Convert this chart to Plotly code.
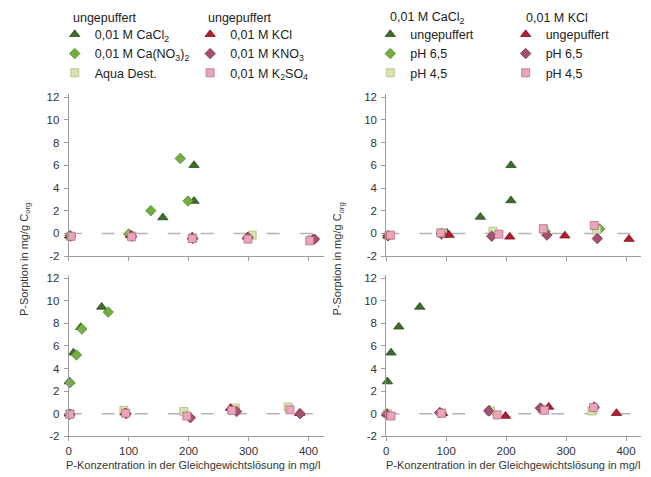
import plotly.graph_objects as go

# ---------------- data ----------------
# top-left panel: ungepuffert solutions
tl_cacl2_x = [2, 103, 157, 209, 209]
tl_cacl2_y = [-0.2, -0.15, 1.4, 2.85, 6.0]
tl_cano3_x = [2, 100, 137, 199, 186]
tl_cano3_y = [-0.2, -0.05, 2.0, 2.85, 6.6]
tl_aqua_x = [3, 104, 207, 306, 405]
tl_aqua_y = [-0.25, -0.2, -0.4, -0.15, -0.55]
tl_kcl_x = [2, 104, 206, 298, 407]
tl_kcl_y = [-0.2, -0.15, -0.3, -0.3, -0.5]
tl_kno3_x = [3, 105, 207, 299, 410]
tl_kno3_y = [-0.25, -0.25, -0.45, -0.35, -0.5]
tl_k2so4_x = [4, 105, 206, 299, 402]
tl_k2so4_y = [-0.25, -0.3, -0.45, -0.5, -0.65]

# bottom-left panel
bl_cacl2_x = [1, 8, 20, 55]
bl_cacl2_y = [2.85, 5.4, 7.65, 9.45]
bl_cano3_x = [2, 13, 22, 66]
bl_cano3_y = [2.75, 5.2, 7.5, 9.0]
bl_aqua_x = [2, 92, 192, 278, 366]
bl_aqua_y = [0.0, 0.3, 0.2, 0.5, 0.6]
bl_kcl_x = [1, 94, 200, 270, 385]
bl_kcl_y = [0.0, 0.1, -0.25, 0.5, 0.05]
bl_kno3_x = [2, 96, 203, 280, 386]
bl_kno3_y = [-0.05, 0.0, -0.35, 0.2, 0.0]
bl_k2so4_x = [2, 95, 197, 272, 369]
bl_k2so4_y = [-0.05, 0.05, -0.2, 0.3, 0.35]

# top-right panel: buffered vs unbuffered
tr_cacl2_x = [3, 101, 157, 208, 208]
tr_cacl2_y = [-0.2, 0.05, 1.45, 2.9, 6.0]
tr_ca65_x = [3, 92, 180, 265, 356]
tr_ca65_y = [-0.2, 0.0, 0.05, 0.2, 0.4]
tr_ca45_x = [4, 94, 178, 263, 351]
tr_ca45_y = [-0.2, 0.0, 0.2, 0.3, 0.3]
tr_kcl_x = [3, 105, 206, 298, 405]
tr_kcl_y = [-0.2, -0.15, -0.3, -0.2, -0.5]
tr_k65_x = [3, 92, 176, 268, 352]
tr_k65_y = [-0.2, -0.05, -0.25, -0.15, -0.45]
tr_k45_x = [7, 91, 188, 262, 347]
tr_k45_y = [-0.15, 0.05, -0.07, 0.42, 0.7]

# bottom-right panel
br_cacl2_x = [2, 8, 21, 56]
br_cacl2_y = [2.85, 5.4, 7.7, 9.45]
br_ca65_x = [1, 90, 172, 258, 346]
br_ca65_y = [0.0, 0.1, 0.3, 0.5, 0.5]
br_ca45_x = [2, 93, 174, 260, 343]
br_ca45_y = [0.0, 0.05, 0.25, 0.4, 0.25]
br_kcl_x = [1, 94, 199, 271, 384]
br_kcl_y = [0.0, 0.05, -0.2, 0.6, 0.05]
br_k65_x = [1, 89, 171, 257, 347]
br_k65_y = [-0.05, 0.1, 0.25, 0.5, 0.6]
br_k45_x = [8, 92, 185, 264, 346]
br_k45_y = [-0.2, 0.05, -0.1, 0.3, 0.55]

left_names = ["0,01 M CaCl<sub>2</sub>", "0,01 M Ca(NO<sub>3</sub>)<sub>2</sub>", "Aqua Dest.",
              "0,01 M KCl", "0,01 M KNO<sub>3</sub>", "0,01 M K<sub>2</sub>SO<sub>4</sub>"]
right_names = ["ungepuffert", "pH 6,5", "pH 4,5", "ungepuffert", "pH 6,5", "pH 4,5"]

x_ticks = [0, 100, 200, 300, 400]
x_ticktext = ["0", "100", "200", "300", "400"]
y_ticks = [-2, 0, 2, 4, 6, 8, 10, 12]
y_ticktext = ["-2", "0", "2", "4", "6", "8", "10", "12"]
x_title = "P-Konzentration in der Gleichgewichtslösung in mg/l"
y_title = "P-Sorption in mg/g C<sub>org</sub>"

# ---------------- styles ----------------
STYLES = [
    dict(symbol="triangle-up", size=9, color="#3e6a2c", line="#2b4c1e"),
    dict(symbol="diamond", size=8, color="#74ae3e", line="#4f8a2a"),
    dict(symbol="square", size=8, color="#d6e5b0", line="#a9bb86"),
    dict(symbol="triangle-up", size=9, color="#b21c30", line="#82101f"),
    dict(symbol="diamond", size=8, color="#a4506f", line="#7a3151"),
    dict(symbol="square", size=8, color="#eaa6b9", line="#b56f88"),
]
FONT = "Liberation Sans, Arial, sans-serif"
W, H = 651, 477

fig = go.Figure()

panels = [
    ("x", "y", [(tl_cacl2_x, tl_cacl2_y), (tl_cano3_x, tl_cano3_y), (tl_aqua_x, tl_aqua_y),
                (tl_kcl_x, tl_kcl_y), (tl_kno3_x, tl_kno3_y), (tl_k2so4_x, tl_k2so4_y)], left_names, True),
    ("x3", "y3", [(bl_cacl2_x, bl_cacl2_y), (bl_cano3_x, bl_cano3_y), (bl_aqua_x, bl_aqua_y),
                  (bl_kcl_x, bl_kcl_y), (bl_kno3_x, bl_kno3_y), (bl_k2so4_x, bl_k2so4_y)], left_names, False),
    ("x2", "y2", [(tr_cacl2_x, tr_cacl2_y), (tr_ca65_x, tr_ca65_y), (tr_ca45_x, tr_ca45_y),
                  (tr_kcl_x, tr_kcl_y), (tr_k65_x, tr_k65_y), (tr_k45_x, tr_k45_y)], right_names, True),
    ("x4", "y4", [(br_cacl2_x, br_cacl2_y), (br_ca65_x, br_ca65_y), (br_ca45_x, br_ca45_y),
                  (br_kcl_x, br_kcl_y), (br_k65_x, br_k65_y), (br_k45_x, br_k45_y)], right_names, False),
]

for xa, ya, series, names, show in panels:
    right = xa in ("x2", "x4")
    for i, ((xs, ys), nm, st) in enumerate(zip(series, names, STYLES)):
        if right:
            leg = "legend3" if i < 3 else "legend4"
        else:
            leg = "legend" if i < 3 else "legend2"
        fig.add_trace(go.Scatter(
            x=xs, y=ys, mode="markers", name=nm, xaxis=xa, yaxis=ya,
            showlegend=show, legend=leg, cliponaxis=False,
            marker=dict(symbol=st["symbol"], size=st["size"], color=st["color"],
                        line=dict(color=st["line"], width=0.8)),
        ))

# ---------------- axes ----------------
def px_x(p):
    return p / W

def px_y(p):
    return 1 - p / H

LX = [px_x(66), px_x(322)]
RX = [px_x(385), px_x(641)]
TY = [px_y(258), px_y(92.5)]
BY = [px_y(441.7), px_y(277)]

axis_common = dict(showline=True, linecolor="#9c9c9c", linewidth=1, ticks="outside",
                   ticklen=4, tickcolor="#9c9c9c", showgrid=False, zeroline=False,
                   tickfont=dict(family=FONT, size=11.5, color="#333333"))

lay = dict(width=W, height=H, margin=dict(l=0, r=0, t=0, b=0),
           paper_bgcolor="white", plot_bgcolor="white",
           font=dict(family=FONT, size=12, color="#222222"), showlegend=True)

for xa, ya, dx, dy, showx in [("xaxis", "yaxis", LX, TY, False), ("xaxis2", "yaxis2", RX, TY, False),
                              ("xaxis3", "yaxis3", LX, BY, True), ("xaxis4", "yaxis4", RX, BY, True)]:
    yname = "y" + ya[5:]
    xname = "x" + xa[5:]
    lay[xa] = dict(axis_common, domain=dx, range=[0, 425], tickvals=x_ticks, ticktext=x_ticktext,
                   showticklabels=showx, anchor=yname)
    lay[ya] = dict(axis_common, domain=dy, range=[-2, 12.3], tickvals=y_ticks, ticktext=y_ticktext,
                   anchor=xname, ticklabelstandoff=2)

# legends (one per legend column)
leg_common = dict(bgcolor="rgba(0,0,0,0)", borderwidth=0, xanchor="left", yanchor="top",
                  font=dict(family=FONT, size=12.5, color="#222222"), tracegroupgap=0,
                  itemclick=False, itemdoubleclick=False)
lay["legend"] = dict(leg_common, x=px_x(72 - 20), y=px_y(17))
lay["legend2"] = dict(leg_common, x=px_x(208 - 20), y=px_y(17))
lay["legend3"] = dict(leg_common, x=px_x(389 - 20), y=px_y(17))
lay["legend4"] = dict(leg_common, x=px_x(525 - 20), y=px_y(17))

fig.update_layout(**lay)

# zero reference lines
for xr, yr in [("x", "y"), ("x2", "y2"), ("x3", "y3"), ("x4", "y4")]:
    fig.add_shape(type="line", xref=xr, yref=yr, x0=0, x1=415, y0=0, y1=0, layer="below",
                  line=dict(color="#b4b4b4", width=1.5, dash="13px,20px"))

ann = []
# legend column titles
for txt, xp in [("ungepuffert", 68), ("ungepuffert", 204),
                ("0,01 M CaCl<sub>2</sub>", 387), ("0,01 M KCl", 523)]:
    ann.append(dict(text=txt, x=px_x(xp), y=px_y(15), xref="paper", yref="paper",
                    xanchor="left", yanchor="middle", showarrow=False,
                    font=dict(family=FONT, size=12.5, color="#222222")))
# axis titles
for xc in [191, 512]:
    ann.append(dict(text=x_title, x=px_x(xc), y=px_y(470.5), xref="paper", yref="paper",
                    xanchor="center", yanchor="middle", showarrow=False,
                    font=dict(family=FONT, size=11, color="#333333")))
for xc in [22, 337]:
    ann.append(dict(text=y_title, x=px_x(xc), y=px_y(261), xref="paper", yref="paper",
                    xanchor="center", yanchor="middle", showarrow=False, textangle=-90,
                    font=dict(family=FONT, size=11, color="#333333")))
fig.update_layout(annotations=ann)

fig.write_html("out.html")
